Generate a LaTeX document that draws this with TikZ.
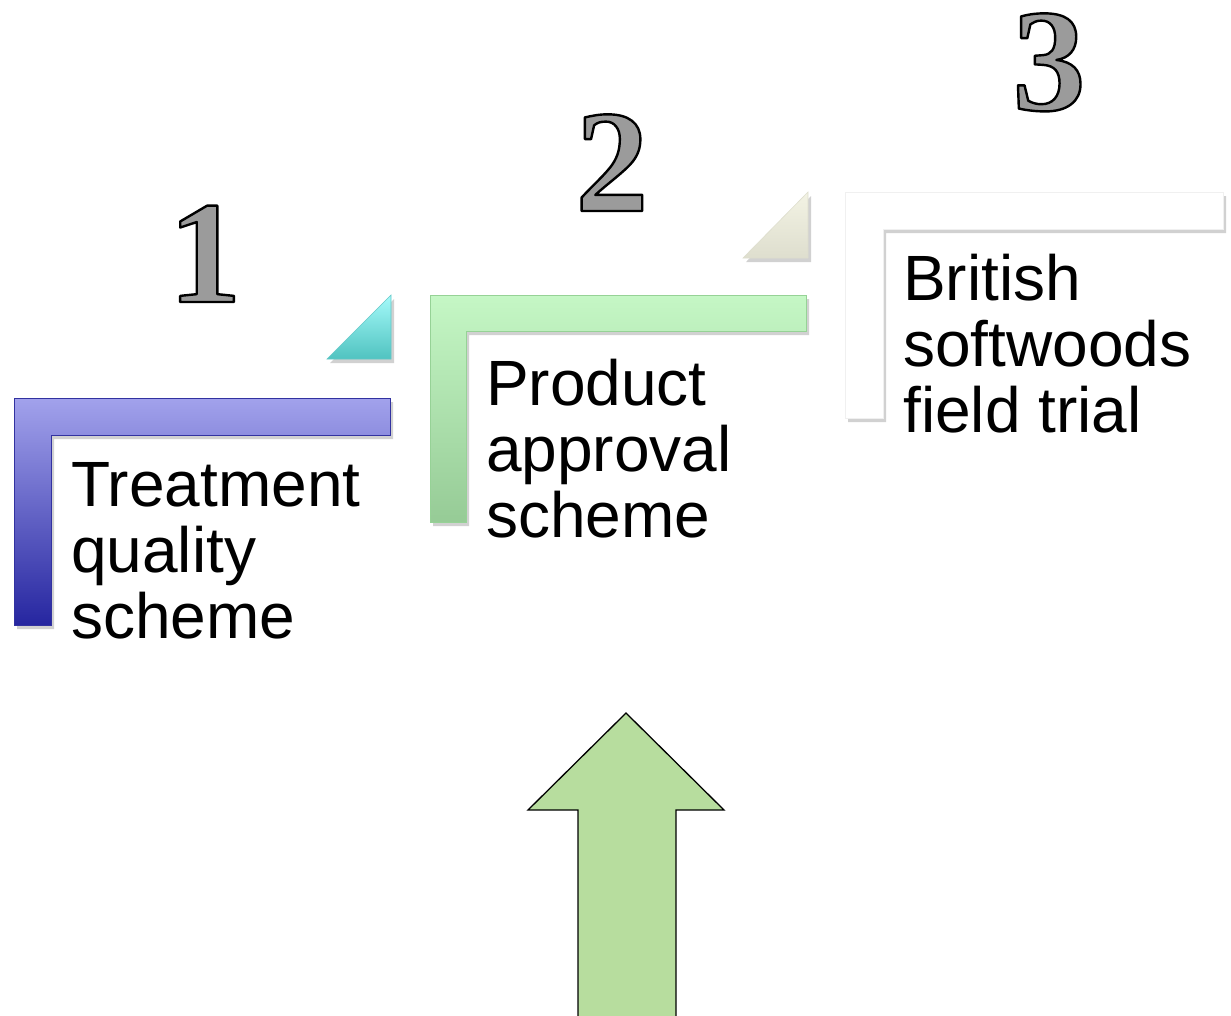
\documentclass[tikz,border=0pt]{standalone}
\usepackage{fontspec}
\setmainfont{Liberation Sans}
\newfontfamily\numfont{Liberation Serif}
\usetikzlibrary{shadows}
\newcommand\outlinedigit[1]{\special{pdf:literal direct 2 Tr 0 0 0 RG 2.4 w 1 j}#1\special{pdf:literal direct 0 Tr}}
\definecolor{blueL}{RGB}{162,162,236}
\definecolor{blueD}{RGB}{38,38,160}
\definecolor{blueB}{RGB}{50,50,160}
\definecolor{greenL}{RGB}{197,247,197}
\definecolor{greenD}{RGB}{150,203,150}
\definecolor{greenB}{RGB}{150,210,150}
\definecolor{tealL}{RGB}{165,250,250}
\definecolor{tealD}{RGB}{80,195,192}
\definecolor{tealB}{RGB}{100,200,200}
\definecolor{beigeL}{RGB}{243,243,228}
\definecolor{beigeD}{RGB}{222,222,206}
\definecolor{arrowG}{RGB}{183,221,158}
\definecolor{digitG}{RGB}{155,155,155}
\begin{document}
\begin{tikzpicture}[x=1pt,y=-1pt,
  shad/.style={drop shadow={shadow xshift=3pt,shadow yshift=-4pt,opacity=0.18,fill=black}},
  lbar/.style={line width=0.9pt,shad},
  tri/.style={line width=0.6pt,shad},
  lbl/.style={anchor=north west,inner sep=0pt,align=left,font=\fontsize{64}{66}\selectfont,text=black},
  digit/.style={anchor=base,inner sep=0pt,text height=94pt,text depth=0pt,font=\numfont\bfseries\fontsize{146}{146}\selectfont,text=digitG}
]
\useasboundingbox (0,0) rectangle (1231,1015);
\fill[white] (0,0) rectangle (1231,1015);

% step 1
\draw[lbar,draw=blueB,top color=blueL,bottom color=blueD]
  (14,398) -- (390,398) -- (390,435) -- (51,435) -- (51,625) -- (14,625) -- cycle;
\draw[tri,draw=tealB,top color=tealL,bottom color=tealD]
  (327,359) -- (391,359) -- (391,295) -- cycle;
\node[lbl] (t1) at (71,462) {Treatment\\quality\\scheme};

% step 2
\draw[lbar,draw=greenB,top color=greenL,bottom color=greenD]
  (430,295) -- (806,295) -- (806,331) -- (466,331) -- (466,522) -- (430,522) -- cycle;
\draw[tri,draw=beigeD,top color=beigeL,bottom color=beigeD]
  (743,258) -- (808,258) -- (808,192) -- cycle;
\node[lbl] (t2) at (486,359) {Product\\approval\\scheme};

% step 3
\draw[lbar,draw=black!6,fill=white]
  (845,192) -- (1223,192) -- (1223,229) -- (883,229) -- (883,418) -- (845,418) -- cycle;
\node[lbl] (t3) at (903,254) {British\\softwoods\\field trial};

% arrow
\coordinate (tip) at (626,713);
\draw[line width=1.3pt,fill=arrowG,line join=miter]
  (tip) -- (724,810) -- (676,810) -- (676,1030) -- (578,1030) -- (578,810) -- (528,810) -- cycle;

% digits
\node[digit] (d1) at (205,302) {\outlinedigit{1}};
\node[digit] (d2) at (612,211) {\outlinedigit{2}};
\node[digit] (d3) at (1049,110) {\outlinedigit{3}};
\end{tikzpicture}
\end{document}
